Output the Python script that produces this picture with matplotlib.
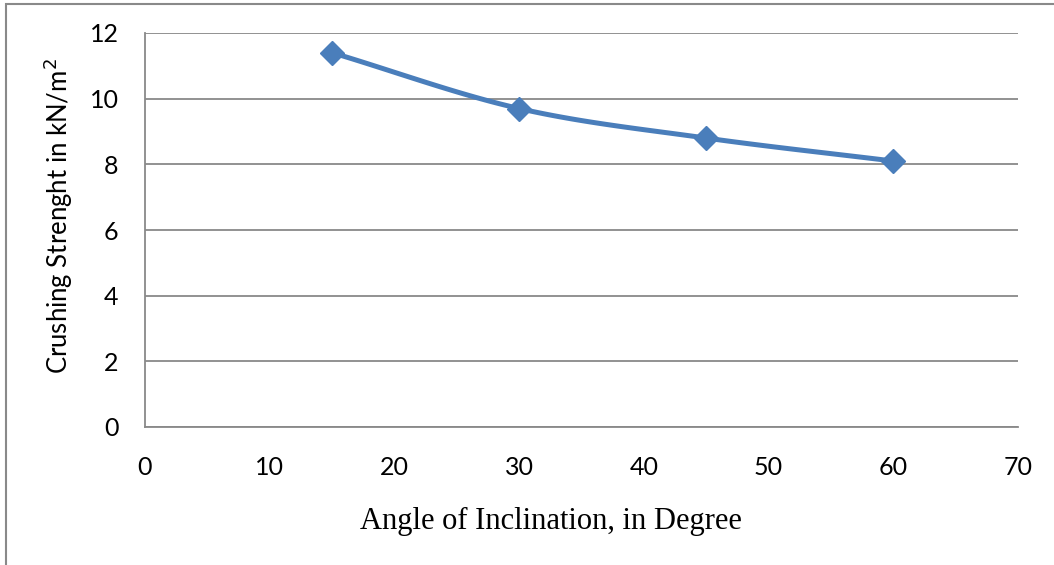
import numpy as np
import matplotlib.pyplot as plt
from matplotlib.patches import Rectangle

angle = [15, 30, 45, 60]
strength = [11.4, 9.7, 8.8, 8.1]
x_ticks = [0, 10, 20, 30, 40, 50, 60, 70]
y_ticks = [0, 2, 4, 6, 8, 10, 12]

blue = "#4A7EBB"
grey = "#898989"


def smooth(xs, ys, n=40):
    # Excel-style smoothed line (Catmull-Rom through the points)
    px = np.array(xs, float)
    py = np.array(ys, float)
    px = np.concatenate([[2 * px[0] - px[1]], px, [2 * px[-1] - px[-2]]])
    py = np.concatenate([[2 * py[0] - py[1]], py, [2 * py[-1] - py[-2]]])
    outx, outy = [], []
    for i in range(1, len(px) - 2):
        t = np.linspace(0, 1, n)
        for arr, out in ((px, outx), (py, outy)):
            p0, p1, p2, p3 = arr[i - 1], arr[i], arr[i + 1], arr[i + 2]
            c1 = p1 + (p2 - p0) / 6
            c2 = p2 - (p3 - p1) / 6
            out.extend((1 - t) ** 3 * p1 + 3 * (1 - t) ** 2 * t * c1
                       + 3 * (1 - t) * t ** 2 * c2 + t ** 3 * p2)
    return outx, outy


fig = plt.figure(figsize=(10.54, 5.65), dpi=100)
fig.patches.append(Rectangle((6 / 1054, -0.1), 1.2, 1.1 - 4 / 565,
                             transform=fig.transFigure, fill=False,
                             edgecolor=grey, linewidth=1.5))
ax = fig.add_axes([145 / 1054, 1 - 427 / 565, 873 / 1054, 394 / 565])

sx, sy = smooth(angle, strength)
ax.plot(sx, sy, color=blue, linewidth=3.6, solid_capstyle="round")
ax.plot(angle, strength, linestyle="none", marker="D", markersize=12,
        color=blue)

ax.set_xlim(0, 70)
ax.set_ylim(0, 12)
ax.set_xticks(x_ticks)
ax.set_yticks(y_ticks)
ax.grid(axis="y", color=grey, linewidth=1.3)
ax.set_axisbelow(True)
for s in ["top", "right"]:
    ax.spines[s].set_visible(False)
for s in ["left", "bottom"]:
    ax.spines[s].set_color(grey)
    ax.spines[s].set_linewidth(1.3)
ax.tick_params(length=0, labelsize=18)
ax.tick_params(axis="x", pad=21)
ax.tick_params(axis="y", pad=19)
for lab in ax.get_xticklabels() + ax.get_yticklabels():
    lab.set_family("Lato")

fig.text(58 / 1054, 1 - 216 / 565, "Crushing Strenght in kN/m$^2$",
         rotation=90, ha="center", va="center", fontsize=18.5, family="Lato")
fig.text(551 / 1054, 1 - 521 / 565, "Angle of Inclination, in Degree",
         ha="center", va="center", fontsize=22, family="Liberation Serif")

fig.savefig("out.png", dpi=100)
